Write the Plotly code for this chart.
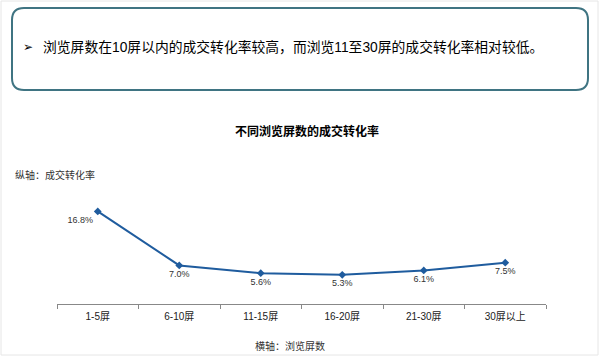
import plotly.graph_objects as go

categories = ["1-5屏", "6-10屏", "11-15屏", "16-20屏", "21-30屏", "30屏以上"]
rates = [16.8, 7.0, 5.6, 5.3, 6.1, 7.5]
rate_labels = ["16.8%", "7.0%", "5.6%", "5.3%", "6.1%", "7.5%"]
label_pos = ["bottom left", "bottom center", "bottom center", "bottom center", "bottom center", "bottom center"]

W, H = 600, 357
def px(x): return x / W
def py(y): return 1 - y / H

FONT = "Liberation Sans, Noto Sans CJK SC, sans-serif"
LINE = "#1F5C9E"

fig = go.Figure()
fig.add_trace(go.Scatter(
    x=categories, y=rates, mode="lines+markers+text",
    line=dict(color=LINE, width=2),
    marker=dict(symbol="diamond", size=6, color=LINE),
    text=rate_labels, textposition=label_pos,
    textfont=dict(family=FONT, size=9, color="#333333"),
    cliponaxis=False, hoverinfo="skip", showlegend=False,
))

# rounded box path (pixel -> paper)
x0, x1, y0, y1, r = 12, 588, 8, 90, 12
def P(x, y): return f"{px(x):.5f},{py(y):.5f}"
path = (f"M {P(x0+r, y0)} L {P(x1-r, y0)} Q {P(x1, y0)} {P(x1, y0+r)} "
        f"L {P(x1, y1-r)} Q {P(x1, y1)} {P(x1-r, y1)} "
        f"L {P(x0+r, y1)} Q {P(x0, y1)} {P(x0, y1-r)} "
        f"L {P(x0, y0+r)} Q {P(x0, y0)} {P(x0+r, y0)} Z")

shapes = [
    dict(type="path", xref="paper", yref="paper", path=path,
         line=dict(color="#3F7482", width=2), fillcolor="rgba(0,0,0,0)"),
    dict(type="rect", xref="paper", yref="paper", x0=px(1), x1=px(598), y0=py(355), y1=py(1),
         line=dict(color="#E6E6E6", width=1), fillcolor="rgba(0,0,0,0)"),
]

annotations = [
    dict(text="➢", x=px(28), y=py(47), xref="paper", yref="paper", showarrow=False,
         xanchor="center", yanchor="middle", font=dict(family="DejaVu Sans", size=12, color="#000000")),
    dict(text="浏览屏数在10屏以内的成交转化率较高，而浏览11至30屏的成交转化率相对较低。",
         x=px(41), y=py(47), xref="paper", yref="paper", showarrow=False,
         xanchor="left", yanchor="middle", font=dict(family=FONT, size=13.8, color="#000000")),
    dict(text="<b>不同浏览屏数的成交转化率</b>", x=px(307), y=py(130), xref="paper", yref="paper",
         showarrow=False, xanchor="center", yanchor="middle",
         font=dict(family="Noto Sans CJK SC", size=12, color="#000000")),
    dict(text="纵轴：成交转化率", x=px(13), y=py(175), xref="paper", yref="paper",
         showarrow=False, xanchor="left", yanchor="middle",
         font=dict(family=FONT, size=10, color="#333333")),
    dict(text="横轴：浏览屏数", x=px(290), y=py(346), xref="paper", yref="paper",
         showarrow=False, xanchor="center", yanchor="middle",
         font=dict(family=FONT, size=10, color="#333333")),
]

fig.update_layout(
    width=W, height=H, margin=dict(l=0, r=0, t=0, b=0),
    paper_bgcolor="white", plot_bgcolor="white",
    shapes=shapes, annotations=annotations,
    xaxis=dict(domain=[px(57), px(546)], type="category", range=[-0.5, 5.5],
               tickson="boundaries", ticks="outside", ticklen=4, tickcolor="#888888",
               showline=True, linecolor="#888888", linewidth=1, showgrid=False,
               ticklabelstandoff=3,
               tickfont=dict(family=FONT, size=10, color="#222222"), fixedrange=True),
    yaxis=dict(domain=[py(304), py(180)], range=[0, 22.5], visible=False,
               showgrid=False, zeroline=False, fixedrange=True),
)

fig.write_html("out.html", config={"displayModeBar": False},
               post_script="document.body.style.margin='0';document.body.style.overflow='hidden';")
